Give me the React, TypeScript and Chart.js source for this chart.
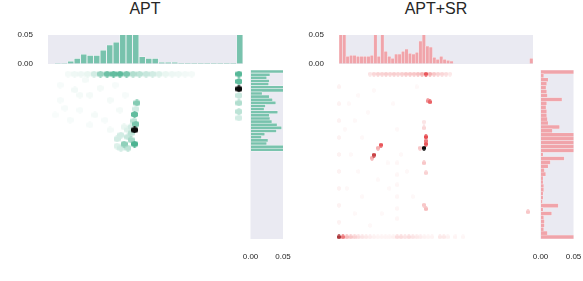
import React, { useEffect, useRef } from 'react';
import { Chart, registerables } from 'chart.js';

Chart.register(...registerables);

const FONT = '"Liberation Sans", Arial, Helvetica, sans-serif';
const TEXT = '#262626';
const BG = '#eaeaf2';

// ---------- data ----------
const panelTitles = ['APT', 'APT+SR'];
const histTicks = [0, 0.05];

// top marginal histograms (density per bin, left -> right)
const aptTopHist = [
  0, 0.001, 0.001, 0.005, 0.01, 0.017, 0.015, 0.015, 0.024, 0.033, 0.038, 0.07, 0.07, 0.07, 0.013,
  0.01, 0.01, 0.003, 0.003, 0.003, 0.0015, 0.0015, 0.0015, 0.0015, 0.0015, 0.0015, 0.0015, 0.0015,
  0.0015, 0.09,
];
const srTopHist = [
  0.07, 0.07, 0.0134, 0.015, 0.015, 0.0134, 0.0134, 0.0134, 0.0134, 0.015, 0.07, 0.0134, 0.07, 0.022,
  0.0134, 0.0099, 0.017, 0.017, 0.022, 0.0256, 0.0186, 0.017, 0.0203, 0.0395, 0.06, 0.0308, 0.029,
  0.0116, 0.0081, 0.0134, 0.0081, 0.0064, 0.005, 0, 0, 0, 0, 0, 0, 0, 0, 0, 0, 0, 0, 0, 0, 0, 0, 0, 0,
  0, 0, 0, 0, 0.0099,
];

// right marginal histograms (density per bin, top -> bottom)
const aptRightHist = [
  0.06, 0.03, 0.025, 0.029, 0.028, 0.06, 0.06, 0.018, 0.029, 0.034, 0.039, 0.023, 0.021, 0.042, 0.029,
  0.03, 0.033, 0.041, 0.048, 0.04, 0.022, 0.017, 0.027, 0.025, 0.06, 0.06, 0, 0, 0, 0, 0, 0, 0, 0, 0,
  0, 0, 0, 0, 0, 0, 0, 0, 0, 0, 0, 0, 0, 0, 0, 0, 0, 0, 0,
];
const srRightHist = [
  0.07, 0.005, 0.0116, 0.0095, 0.0084, 0.0095, 0.0105, 0.0326, 0.0095, 0.0084, 0.0095, 0.0095, 0.0105,
  0.0116, 0.029, 0.018, 0.07, 0.07, 0.07, 0.07, 0.07, 0.004, 0.036, 0.015, 0.0116, 0.006, 0.008, 0.004,
  0.004, 0.005, 0.005, 0.004, 0.004, 0.003, 0.027, 0.004, 0.017, 0.005, 0.006, 0.006, 0.005, 0.0105,
  0.07,
];

// hexbin cells: [x, y (0 = top), relative count level]
const aptCells: number[][] = [
  [0.103, 0.024, 0.05], [0.136, 0.024, 0.07], [0.169, 0.024, 0.08], [0.203, 0.024, 0.1],
  [0.236, 0.024, 0.2], [0.269, 0.024, 0.45], [0.303, 0.024, 0.65], [0.336, 0.024, 0.7],
  [0.369, 0.024, 0.72], [0.403, 0.024, 0.6], [0.436, 0.024, 0.35], [0.469, 0.024, 0.3],
  [0.503, 0.024, 0.25], [0.536, 0.024, 0.2], [0.569, 0.024, 0.15], [0.603, 0.024, 0.1],
  [0.636, 0.024, 0.08], [0.669, 0.024, 0.07], [0.703, 0.024, 0.06], [0.736, 0.024, 0.05],
  [0.979, 0.024, 0.75], [0.979, 0.068, 0.7], [0.979, 0.112, 1], [0.979, 0.151, 0.25],
  [0.979, 0.195, 0.35], [0.979, 0.246, 0.3], [0.979, 0.284, 0.2],
  [0.456, 0.195, 0.55], [0.451, 0.231, 0.2], [0.444, 0.263, 0.7], [0.441, 0.302, 0.3],
  [0.451, 0.32, 0.6], [0.444, 0.355, 1], [0.426, 0.373, 0.3], [0.41, 0.396, 0.25],
  [0.444, 0.438, 0.8], [0.39, 0.438, 0.5], [0.41, 0.462, 0.3], [0.374, 0.462, 0.2],
  [0.354, 0.408, 0.2], [0.374, 0.385, 0.2], [0.41, 0.355, 0.15], [0.39, 0.337, 0.1],
  [0.426, 0.337, 0.2], [0.426, 0.414, 0.4], [0.354, 0.45, 0.15],
  [0.062, 0.089, 0.04], [0.138, 0.118, 0.06], [0.215, 0.148, 0.05], [0.267, 0.107, 0.05],
  [0.318, 0.178, 0.05], [0.164, 0.237, 0.04], [0.241, 0.266, 0.05], [0.292, 0.296, 0.04],
  [0.113, 0.296, 0.04], [0.062, 0.178, 0.04], [0.344, 0.089, 0.04], [0.19, 0.059, 0.05],
  [0.036, 0.266, 0.03], [0.369, 0.237, 0.05], [0.395, 0.148, 0.04], [0.215, 0.325, 0.04],
  [0.318, 0.355, 0.05], [0.164, 0.148, 0.05], [0.087, 0.225, 0.04],
];

const srCells: number[][] = [
  [0.16, 0.024, 0.12], [0.18, 0.024, 0.18], [0.201, 0.024, 0.2], [0.222, 0.024, 0.2],
  [0.242, 0.024, 0.22], [0.263, 0.024, 0.2], [0.284, 0.024, 0.22], [0.304, 0.024, 0.2],
  [0.325, 0.024, 0.22], [0.345, 0.024, 0.25], [0.366, 0.024, 0.25], [0.387, 0.024, 0.25],
  [0.407, 0.024, 0.28], [0.428, 0.024, 0.35], [0.448, 0.024, 0.75], [0.469, 0.024, 0.35],
  [0.49, 0.024, 0.25], [0.51, 0.024, 0.2], [0.531, 0.024, 0.18], [0.552, 0.024, 0.15],
  [0.572, 0.024, 0.1],
  [0.469, 0.189, 0.7], [0.458, 0.183, 0.5], [0.438, 0.308, 0.12], [0.438, 0.343, 0.18],
  [0.448, 0.396, 0.8], [0.448, 0.42, 0.6], [0.448, 0.438, 0.75], [0.438, 0.462, 1],
  [0.418, 0.462, 0.25], [0.216, 0.444, 0.75], [0.201, 0.462, 0.35], [0.18, 0.503, 0.85],
  [0.17, 0.521, 0.35], [0.438, 0.55, 0.25], [0.448, 0.609, 0.2], [0.438, 0.799, 0.25],
  [0.448, 0.822, 0.3], [0.974, 0.84, 0.25],
  [0.0, 0.988, 0.9], [0.02, 0.988, 0.6], [0.04, 0.988, 0.3], [0.06, 0.988, 0.25],
  [0.08, 0.988, 0.2], [0.1, 0.988, 0.15], [0.12, 0.988, 0.12], [0.14, 0.988, 0.1],
  [0.16, 0.988, 0.08], [0.18, 0.988, 0.06], [0.2, 0.988, 0.05], [0.22, 0.988, 0.05],
  [0.24, 0.988, 0.05], [0.26, 0.988, 0.05], [0.28, 0.988, 0.06], [0.3, 0.988, 0.15],
  [0.32, 0.988, 0.15], [0.34, 0.988, 0.12], [0.36, 0.988, 0.15], [0.38, 0.988, 0.12],
  [0.4, 0.988, 0.1], [0.42, 0.988, 0.08], [0.44, 0.988, 0.06], [0.46, 0.988, 0.05],
  [0.48, 0.988, 0.05], [0.52, 0.988, 0.1], [0.54, 0.988, 0.1], [0.56, 0.988, 0.06],
  [0.6, 0.988, 0.05], [0.64, 0.988, 0.04],
  [0.0, 0.1, 0.06], [0.0, 0.2, 0.06], [0.0, 0.3, 0.06], [0.0, 0.4, 0.06], [0.0, 0.5, 0.06],
  [0.0, 0.6, 0.06], [0.0, 0.7, 0.06], [0.0, 0.8, 0.06], [0.0, 0.9, 0.06],
  [0.3, 0.55, 0.04], [0.3, 0.62, 0.04], [0.3, 0.68, 0.04], [0.3, 0.75, 0.04], [0.3, 0.82, 0.04],
  [0.3, 0.88, 0.04],
  [0.05, 0.2, 0.03], [0.03, 0.35, 0.03], [0.08, 0.3, 0.03], [0.1, 0.15, 0.03], [0.15, 0.25, 0.03],
  [0.12, 0.4, 0.03], [0.06, 0.5, 0.03], [0.1, 0.6, 0.03], [0.04, 0.7, 0.03], [0.12, 0.75, 0.03],
  [0.08, 0.85, 0.03], [0.2, 0.65, 0.03], [0.25, 0.55, 0.03], [0.3, 0.35, 0.03], [0.28, 0.2, 0.03],
  [0.35, 0.6, 0.03], [0.22, 0.85, 0.03], [0.18, 0.12, 0.03], [0.4, 0.1, 0.03], [0.38, 0.75, 0.03],
  [0.16, 0.92, 0.03], [0.32, 0.5, 0.03], [0.26, 0.7, 0.03],
];

// ---------- styling helpers ----------
const GREEN = [76, 179, 145];
const RED = [231, 76, 80];

function levelColor(base: number[], t: number): string {
  if (t >= 1) return 'rgb(10,10,10)';
  const f = Math.min(t / 0.8, 1);
  let c = base.map((b) => 255 + (b - 255) * f);
  if (t > 0.8) {
    const d = ((t - 0.8) / 0.2) * 0.5;
    c = c.map((v) => v * (1 - d));
  }
  return `rgb(${Math.round(c[0])},${Math.round(c[1])},${Math.round(c[2])})`;
}

const hexCache = new Map<string, HTMLCanvasElement>();
function hexImage(color: string, w: number, h: number): HTMLCanvasElement {
  const key = `${color}|${w}|${h}`;
  const hit = hexCache.get(key);
  if (hit) return hit;
  const c = document.createElement('canvas');
  c.width = w;
  c.height = h;
  const g = c.getContext('2d')!;
  g.fillStyle = color;
  g.beginPath();
  g.moveTo(w / 2, 0);
  g.lineTo(w, h / 4);
  g.lineTo(w, (3 * h) / 4);
  g.lineTo(w / 2, h);
  g.lineTo(0, (3 * h) / 4);
  g.lineTo(0, h / 4);
  g.closePath();
  g.fill();
  hexCache.set(key, c);
  return c;
}

const bgPlugin = {
  id: 'bg',
  beforeDraw(chart: any, _args: any, opts: any) {
    if (!opts || !opts.color) return;
    const { ctx, chartArea: a } = chart;
    ctx.save();
    ctx.fillStyle = opts.color;
    ctx.fillRect(a.left, a.top, a.right - a.left, a.bottom - a.top);
    ctx.restore();
  },
};

const tickFont = { size: 8, family: FONT };
const fmt = (v: any) => Number(v).toFixed(2);
const setTicks = (s: any) => {
  s.ticks = histTicks.map((value) => ({ value }));
};
// invisible grid whose tick length sets the label offset
const hiddenGrid = (len: number) => ({
  display: true,
  drawOnChartArea: false,
  drawTicks: true,
  tickLength: len,
  color: 'rgba(0,0,0,0)',
});

function topHistConfig(values: number[], fill: string, bw: number, padRight: number) {
  return {
    type: 'bar',
    data: {
      labels: values.map((_, i) => String(i)),
      datasets: [
        {
          data: values,
          backgroundColor: fill,
          borderColor: 'rgba(245,245,250,0.9)',
          borderWidth: bw,
          borderSkipped: 'bottom',
          barPercentage: 1,
          categoryPercentage: 1,
        },
      ],
    },
    options: {
      animation: false,
      responsive: false,
      events: [],
      layout: { padding: { left: 0, right: padRight, top: 7, bottom: 6 } },
      plugins: { legend: { display: false }, tooltip: { enabled: false }, bg: { color: BG } },
      scales: {
        x: { display: false, offset: true },
        y: {
          min: 0,
          max: 0.05,
          afterBuildTicks: setTicks,
          afterFit: (s: any) => {
            s.width = 48;
          },
          grid: hiddenGrid(15),
          border: { display: false },
          ticks: { padding: 0, font: tickFont, color: TEXT, callback: fmt },
        },
      },
    },
    plugins: [bgPlugin],
  };
}

function rightHistConfig(values: number[], fill: string, bw: number, padLeft: number, padRight: number) {
  return {
    type: 'bar',
    data: {
      labels: values.map((_, i) => String(i)),
      datasets: [
        {
          data: values,
          backgroundColor: fill,
          borderColor: 'rgba(245,245,250,0.9)',
          borderWidth: bw,
          borderSkipped: 'left',
          barPercentage: 1,
          categoryPercentage: 1,
        },
      ],
    },
    options: {
      indexAxis: 'y',
      animation: false,
      responsive: false,
      events: [],
      layout: { padding: { left: padLeft, right: padRight, top: 10, bottom: 1 } },
      plugins: { legend: { display: false }, tooltip: { enabled: false }, bg: { color: BG } },
      scales: {
        y: { display: false, offset: true },
        x: {
          min: 0,
          max: 0.05,
          afterBuildTicks: setTicks,
          afterFit: (s: any) => {
            s.height = 25;
          },
          grid: hiddenGrid(13),
          border: { display: false },
          ticks: { padding: 0, maxRotation: 0, autoSkip: false, font: tickFont, color: TEXT, callback: fmt },
        },
      },
    },
    plugins: [bgPlugin],
  };
}

function jointConfig(cells: number[][], base: number[], w: number, h: number) {
  const pts = cells
    .map((c) => ({ x: c[0], y: c[1], l: c[2] }))
    .sort((a, b) => a.l - b.l);
  return {
    type: 'scatter',
    data: {
      datasets: [
        {
          data: pts,
          pointRadius: 3,
          clip: false,
          pointStyle: (ctx: any) => hexImage(levelColor(base, ctx.raw ? ctx.raw.l : 0), w, h),
        },
      ],
    },
    options: {
      animation: false,
      responsive: false,
      events: [],
      layout: { padding: { left: 48, right: 7, top: 10, bottom: 11 } },
      plugins: { legend: { display: false }, tooltip: { enabled: false } },
      scales: {
        x: { display: false, min: 0, max: 1 },
        y: { display: false, min: 0, max: 1, reverse: true },
      },
    },
  };
}

// ---------- components ----------
function ChartBox({ left, top, width, height, build }: any) {
  const ref = useRef<HTMLCanvasElement>(null);
  useEffect(() => {
    const chart = new Chart(ref.current as HTMLCanvasElement, build() as any);
    return () => chart.destroy();
  }, []);
  return (
    <canvas
      ref={ref}
      width={width}
      height={height}
      style={{ position: 'absolute', left, top, width, height }}
    />
  );
}

function Title({ text, center }: { text: string; center: number }) {
  return (
    <div
      style={{
        position: 'absolute',
        left: center - 100,
        top: 0,
        width: 200,
        textAlign: 'center',
        font: `16px ${FONT}`,
        lineHeight: '18px',
        color: TEXT,
      }}
    >
      {text}
    </div>
  );
}

export default function App() {
  return (
    <div style={{ position: 'absolute', left: 0, top: 0, width: 583, height: 281, background: '#fff' }}>
      <Title text={panelTitles[0]} center={145} />
      <Title text={panelTitles[1]} center={436} />

      <ChartBox left={0} top={28} width={250} height={42} build={() => topHistConfig(aptTopHist, 'rgba(76,179,145,0.72)', 0.8, 7)} />
      <ChartBox left={0} top={60} width={250} height={190} build={() => jointConfig(aptCells, GREEN, 7, 7)} />
      <ChartBox left={236} top={60} width={56} height={205} build={() => rightHistConfig(aptRightHist, 'rgba(76,179,145,0.72)', 0.6, 14.5, 9)} />

      <ChartBox left={291} top={28} width={249} height={42} build={() => topHistConfig(srTopHist, 'rgba(242,140,145,0.75)', 0.5, 7)} />
      <ChartBox left={291} top={60} width={249} height={190} build={() => jointConfig(srCells, RED, 4, 5)} />
      <ChartBox left={527} top={60} width={56} height={205} build={() => rightHistConfig(srRightHist, 'rgba(242,140,145,0.75)', 0.5, 13.5, 9.5)} />
    </div>
  );
}
